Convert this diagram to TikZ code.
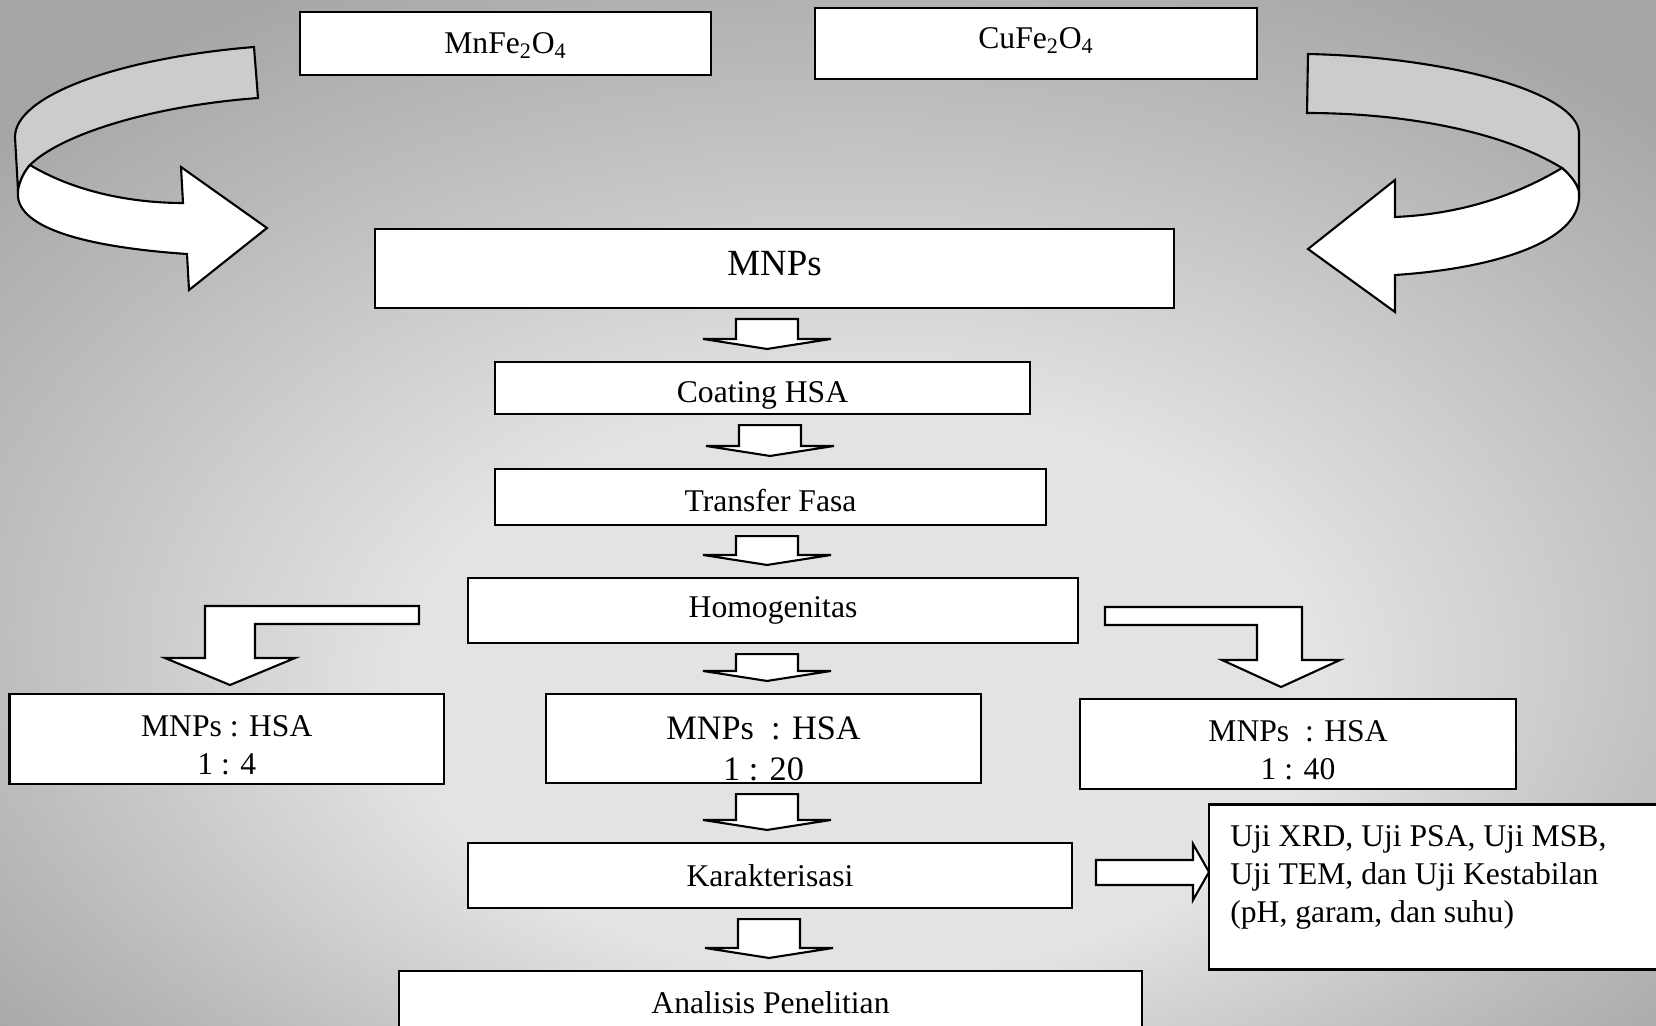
\documentclass[tikz,border=0pt]{standalone}
\usepackage{fontspec}
\setmainfont{Liberation Serif}
\usetikzlibrary{calc}

\definecolor{bglight}{gray}{0.89}
\definecolor{bgmid}{gray}{0.74}
\definecolor{bgdark}{gray}{0.65}
\definecolor{ribbongray}{gray}{0.80}

\pgfdeclareradialshading{slidebg}{\pgfpoint{1.5bp}{-12bp}}{%
  color(0bp)=(bglight); color(14bp)=(bglight); color(26bp)=(bgmid);
  color(34bp)=(bgdark); color(50bp)=(bgdark)}

% fat down arrow: x of the shaft, box above, box below
\newcommand{\fatdown}[3]{%
  \draw[blockarrow] let \p1=(#2.south), \p2=(#3.north) in
    ({#1*0.02cm-0.62cm},{\y1-0.2cm}) -- ({#1*0.02cm+0.62cm},{\y1-0.2cm})
    -- ({#1*0.02cm+0.62cm},{\y2+0.44cm}) -- ({#1*0.02cm+1.28cm},{\y2+0.44cm})
    -- ({#1*0.02cm},{\y2+0.24cm}) -- ({#1*0.02cm-1.28cm},{\y2+0.44cm})
    -- ({#1*0.02cm-0.62cm},{\y2+0.44cm}) -- cycle;}

\begin{document}
\begin{tikzpicture}[x=0.02cm, y=-0.02cm,
  box/.style={draw, line width=1.2pt, fill=white, inner sep=0pt},
  blockarrow/.style={draw, line width=1.2pt, fill=white, line join=miter},
  ribbon/.style={draw, line width=1.2pt, fill=#1},
  every node/.style={font=\fontsize{18}{21.6}\selectfont}]
\useasboundingbox (0,0) rectangle (1656,1025);
\clip (0,0) rectangle (1656,1025);
\shade[shading=slidebg] (0,0) rectangle (1656,1025);

% the two ferrites
\node[box, minimum width=8.22cm, minimum height=1.26cm, text height=12.3pt, text depth=0.5pt] (mnfe) at (505.5,43.5) {MnFe\textsubscript{2}O\textsubscript{4}};
\node[box, minimum width=8.84cm, minimum height=1.42cm, text height=12.3pt, text depth=6.1pt] (cufe) at (1036,43.5) {CuFe\textsubscript{2}O\textsubscript{4}};

% main column
\node[box, minimum width=15.98cm, minimum height=1.58cm, font=\fontsize{21}{25}\selectfont, text height=13.9pt, text depth=5.4pt] (mnps) at (774.5,268.5) {MNPs};
\node[box, minimum width=10.7cm, minimum height=1.04cm, text height=16pt, text depth=0pt] (coat) at (762.5,388) {Coating HSA};
\node[box, minimum width=11.02cm, minimum height=1.12cm, text height=16.9pt, text depth=0pt] (trans) at (770.5,497) {Transfer Fasa};
\node[box, minimum width=12.2cm, minimum height=1.3cm] (homog) at (773,610.5) {Homogenitas};
\node[box, minimum width=8.69cm, minimum height=1.8cm] (rfour) at (226.75,739) {};
\node[box, minimum width=8.7cm, minimum height=1.78cm] (rtwenty) at (763.5,738.5) {};
\node[box, minimum width=8.72cm, minimum height=1.8cm] (rforty) at (1298,744) {};
\node[box, minimum width=12.08cm, minimum height=1.3cm] (karak) at (770,875.5) {Karakterisasi};
\node[box, minimum width=14.86cm, minimum height=1.38cm, text height=12.3pt, text depth=3.4pt] (anal) at (770.5,1005.5) {Analisis Penelitian};
\node[box, minimum width=9.42cm, minimum height=3.3cm] (uji) at (1444.5,887) {};

% texts of the ratios and the tests
\node[align=center] (rfourtxt) at ($(rfour)+(0,6)$) {MNPs : HSA\\1 : 4};
\node[align=center, font=\fontsize{19.5}{23.4}\selectfont] (rtwentytxt) at ($(rtwenty)+(0,10.5)$) {MNPs\ \ : HSA\\1 : 20};
\node[align=center] (rfortytxt) at ($(rforty)+(0,6)$) {MNPs\ \ : HSA\\1 : 40};
\node[anchor=north west, align=left, inner sep=0pt] (ujitxt) at (1230,825) {Uji XRD, Uji PSA, Uji MSB,\\Uji TEM, dan Uji Kestabilan\\(pH, garam, dan suhu)};

% curved arrow on the left
\draw[ribbon=ribbongray] (254,47) .. controls (120,58) and (15,95) .. (15,137) -- (18,190)
  .. controls (20,180) and (24,172) .. (30,165) .. controls (60,135) and (150,106) .. (258,98) -- cycle;
\draw[ribbon=white] (30,165) .. controls (80,195) and (140,203) .. (183,203) -- (181,167) -- (267,228)
  -- (189,290) -- (187,254) .. controls (100,248) and (22,232) .. (18,197) -- (18,190)
  .. controls (20,180) and (24,172) .. (30,165) -- cycle;
% curved arrow on the right
\draw[ribbon=ribbongray] (1308,54) .. controls (1450,57) and (1578,93) .. (1579,133) -- (1579,192)
  .. controls (1577,183) and (1570,175) .. (1562,168) .. controls (1500,130) and (1400,113) .. (1307,113) -- cycle;
\draw[ribbon=white] (1562,168) .. controls (1500,205) and (1440,215) .. (1395,217) -- (1395,180) -- (1308,249)
  -- (1395,312) -- (1395,275) .. controls (1500,268) and (1579,240) .. (1579,197) -- (1579,192)
  .. controls (1577,183) and (1570,175) .. (1562,168) -- cycle;

% arrows down the column
\fatdown{767}{mnps}{coat}
\fatdown{770}{coat}{trans}
\fatdown{767}{trans}{homog}
\fatdown{767}{homog}{rtwenty}
\fatdown{767}{rtwenty}{karak}
\fatdown{769}{karak}{anal}

% bent arrows to the side ratios
\draw[blockarrow] (419,606) -- (205,606) -- (205,658) -- (165,658) -- (230,685) -- (295,658)
  -- (255,658) -- (255,624) -- (419,624) -- cycle;
\draw[blockarrow] (1105,607) -- (1302,607) -- (1302,660) -- (1340,660) -- (1281,687) -- (1222,660)
  -- (1257,660) -- (1257,625) -- (1105,625) -- cycle;
% to the tests
\draw[blockarrow] (1096,860) -- (1193,860) -- (1193,844) -- (1209,872) -- (1193,900) -- (1193,885)
  -- (1096,885) -- cycle;
\end{tikzpicture}
\end{document}
